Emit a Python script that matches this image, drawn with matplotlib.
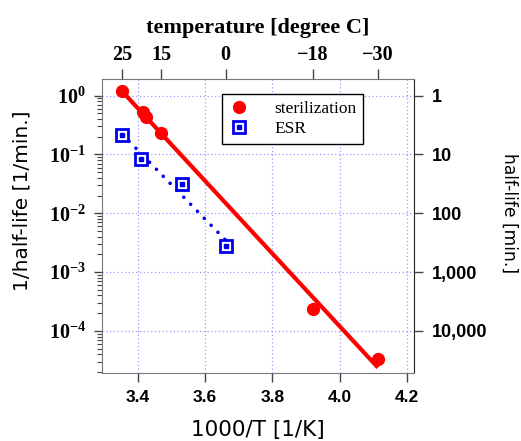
# Arrhenius plot of 1/half-life for sterilization and ESR data
import matplotlib
matplotlib.use('Agg')
import matplotlib.pyplot as plt
import numpy as np
from matplotlib.ticker import LogLocator, NullFormatter, LogFormatterMathtext

# data (x = 1000/T [1/K], y = 1/half-life [1/min.])
steril_x = [3.354, 3.415, 3.424, 3.470, 3.919, 4.113]
steril_y = [1.22, 0.53, 0.44, 0.23, 2.4e-4, 3.3e-5]
esr_x = [3.354, 3.411, 3.532, 3.661]
esr_y = [0.215, 0.084, 0.031, 0.0028]

temp_ticks = [25, 15, 0, -18, -30]
x_ticks = [3.4, 3.6, 3.8, 4.0, 4.2]
y_ticks = [1, 1e-1, 1e-2, 1e-3, 1e-4]
half_life_ticks = [1, 10, 100, 1000, 10000]

SERIF = 'Liberation Serif'
SANS = 'Liberation Sans'
WIDE = 'DejaVu Sans'
RED = '#ff0000'
BLUE = '#0000ee'
GRID = '#9999ff'
TICK = '#444444'

fig = plt.figure(figsize=(5.21, 4.41), dpi=100)
ax = fig.add_axes([0.1958, 0.1542, 0.5988, 0.6667])
ax.set_yscale('log')
ax.set_xlim(3.294, 4.22)
ax.set_ylim(10 ** -4.716, 10 ** 0.284)

# grid
ax.set_xticks(x_ticks)
ax.set_yticks(y_ticks)
ax.grid(True, which='major', color=GRID, linestyle=(0, (1, 2)), linewidth=0.9)

# fitted lines (log-linear regression)
def fit_line(xs, ys):
    coef = np.polyfit(xs, np.log10(ys), 1)
    xx = np.array([min(xs), max(xs)])
    return xx, 10 ** np.polyval(coef, xx)

fx, fy = fit_line(steril_x, steril_y)
ax.plot(fx, fy, color=RED, linewidth=3.0, solid_capstyle='butt', zorder=3)
ex, ey = fit_line(esr_x, esr_y)
ax.plot(ex, ey, color=BLUE, linewidth=2.6, linestyle=(0, (0.01, 2.7)),
        dash_capstyle='round', zorder=3)

# points
h1, = ax.plot(steril_x, steril_y, 'o', color=RED, markersize=8.5, zorder=4)
h2, = ax.plot(esr_x, esr_y, 's', markerfacecolor='white', markeredgecolor=BLUE,
              markeredgewidth=2.0, markersize=8.0, zorder=4)
h3, = ax.plot(esr_x, esr_y, 's', color=BLUE, markersize=2.2, zorder=5)

leg = ax.legend([h1, (h2, h3)], ['sterilization', 'ESR'], loc='upper left',
                bbox_to_anchor=(0.385, 0.95), fancybox=False, framealpha=1,
                edgecolor='black', prop={'family': SERIF, 'size': 12.5},
                handlelength=1.2, handletextpad=1.4, borderpad=0.4,
                labelspacing=0.25, borderaxespad=0)
leg.get_frame().set_linewidth(1.0)

# spines and ticks (lengths/pads in points)
for s in ['left', 'bottom', 'top']:
    ax.spines[s].set_color('#777777')
ax.spines['right'].set_color('#222222')

ax.tick_params(axis='x', which='major', direction='out', length=6.5, width=1,
               color=TICK, pad=5.5)
ax.tick_params(axis='y', which='major', direction='out', length=5.8, width=1,
               color=TICK, pad=5.8)
ax.tick_params(axis='y', which='minor', direction='out', length=3.6, width=0.8,
               color=TICK)
ax.yaxis.set_minor_locator(LogLocator(base=10, subs=np.arange(2, 10)))
ax.yaxis.set_minor_formatter(NullFormatter())
ax.yaxis.set_major_formatter(LogFormatterMathtext())
ax.set_xticklabels([f'{v:.1f}' for v in x_ticks])

for lab in ax.get_xticklabels():
    lab.set_fontfamily(SANS)
    lab.set_fontweight('bold')
    lab.set_fontsize(12.5)
for lab in ax.get_yticklabels():
    lab.set_fontfamily(SERIF)
    lab.set_fontweight('bold')
    lab.set_fontsize(14.5)

ax.set_xlabel('1000/T [1/K]', fontfamily=WIDE, fontsize=15.5, labelpad=11)
ax.set_ylabel('1/half-life [1/min.]', fontfamily=WIDE, fontsize=14.5)
ax.yaxis.set_label_coords(-0.225, 0.585)

# right axis: half-life
ax2 = ax.twinx()
ax2.set_yscale('log')
ax2.set_ylim(ax.get_ylim())
ax2.set_yticks([1.0 / h for h in half_life_ticks])
ax2.set_yticklabels([f'{h:,}' for h in half_life_ticks])
ax2.yaxis.set_minor_locator(plt.NullLocator())
ax2.tick_params(axis='y', direction='out', length=6.5, width=1, color=TICK, pad=6.3)
for lab in ax2.get_yticklabels():
    lab.set_fontfamily(SANS)
    lab.set_fontweight('bold')
    lab.set_fontsize(13)
for s in ax2.spines.values():
    s.set_visible(False)
ax2.set_ylabel('half-life [min.]', fontfamily=WIDE, fontsize=12.3, rotation=270)
ax2.yaxis.set_label_coords(1.334, 0.544)

# top axis: temperature in degree C
sec = ax.secondary_xaxis('top', functions=(lambda x: 1000.0 / x - 273.15,
                                           lambda c: 1000.0 / (c + 273.15)))
sec.set_xticks(temp_ticks)
sec.tick_params(direction='out', length=7.2, width=1, color=TICK, pad=3.2)
for lab in sec.get_xticklabels():
    lab.set_fontfamily(SERIF)
    lab.set_fontweight('bold')
    lab.set_fontsize(14.5)
sec.spines['top'].set_visible(False)
sec.set_xlabel('temperature [degree C]', fontfamily=SERIF, fontweight='bold',
               fontsize=16, labelpad=8)

fig.savefig('out.png', dpi=100)
